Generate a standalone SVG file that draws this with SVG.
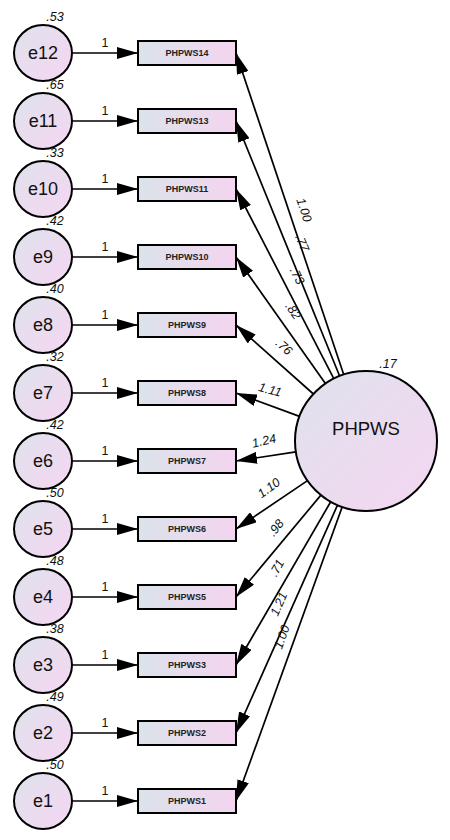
<svg xmlns="http://www.w3.org/2000/svg" width="450" height="840" viewBox="0 0 450 840">
<defs>
<linearGradient id="gc" x1="0" y1="0" x2="1" y2="1">
<stop offset="0" stop-color="#dfe2ec"/><stop offset="1" stop-color="#f5d6f2"/>
</linearGradient>
<linearGradient id="gr" x1="0" y1="0" x2="1" y2="0">
<stop offset="0" stop-color="#dbe3ea"/><stop offset="1" stop-color="#f4d5f0"/>
</linearGradient>
<marker id="ah" markerUnits="userSpaceOnUse" markerWidth="22" markerHeight="12" refX="21" refY="6" orient="auto">
<path d="M0,0 L21,6 L0,12 z" fill="#000"/>
</marker>
<style>
.err{fill:url(#gc);stroke:#000;stroke-width:2}
.obs{fill:url(#gr);stroke:#000;stroke-width:2}
.lat{fill:url(#gc);stroke:#000;stroke-width:2}
.edge{stroke:#000;stroke-width:1.7;fill:none;marker-end:url(#ah)}
.et{font-family:"Liberation Sans",Arial,sans-serif;font-size:18px;text-anchor:middle;dominant-baseline:central;fill:#111}
.ot{font-family:"Liberation Sans",Arial,sans-serif;font-size:9px;font-weight:bold;text-anchor:middle;dominant-baseline:central;fill:#222}
.lt{font-family:"Liberation Sans",Arial,sans-serif;font-size:18.5px;text-anchor:middle;dominant-baseline:central;fill:#111}
.var{font-family:"Liberation Sans",Arial,sans-serif;font-size:12.5px;font-style:italic;text-anchor:middle;dominant-baseline:central;fill:#111}
.one{font-family:"Liberation Sans",Arial,sans-serif;font-size:12.5px;text-anchor:middle;dominant-baseline:central;fill:#111}
.ld{font-family:"Liberation Sans",Arial,sans-serif;font-size:12.5px;font-style:italic;text-anchor:middle;dominant-baseline:central;fill:#111}
</style>
</defs>
<rect width="450" height="840" fill="#fff"/>

<g id="connectors">
<line class="edge" x1="72" y1="53" x2="138" y2="53"/>
<line class="edge" x1="72" y1="121" x2="138" y2="121"/>
<line class="edge" x1="72" y1="189" x2="138" y2="189"/>
<line class="edge" x1="72" y1="257" x2="138" y2="257"/>
<line class="edge" x1="72" y1="325" x2="138" y2="325"/>
<line class="edge" x1="72" y1="393" x2="138" y2="393"/>
<line class="edge" x1="72" y1="461" x2="138" y2="461"/>
<line class="edge" x1="72" y1="529" x2="138" y2="529"/>
<line class="edge" x1="72" y1="597" x2="138" y2="597"/>
<line class="edge" x1="72" y1="665" x2="138" y2="665"/>
<line class="edge" x1="72" y1="733" x2="138" y2="733"/>
<line class="edge" x1="72" y1="801" x2="138" y2="801"/>

<line class="edge" x1="343.7" y1="374.5" x2="236" y2="53"/>
<line class="edge" x1="339.6" y1="376.0" x2="236" y2="121"/>
<line class="edge" x1="333.8" y1="378.6" x2="236" y2="189"/>
<line class="edge" x1="325.4" y1="383.6" x2="236" y2="257"/>
<line class="edge" x1="313.4" y1="394.0" x2="236" y2="325"/>
<line class="edge" x1="299.5" y1="416.4" x2="236" y2="393"/>
<line class="edge" x1="295.9" y1="451.8" x2="236" y2="461"/>
<line class="edge" x1="307.5" y1="480.6" x2="236" y2="529"/>
<line class="edge" x1="320.9" y1="495.1" x2="236" y2="597"/>
<line class="edge" x1="330.7" y1="501.8" x2="236" y2="665"/>
<line class="edge" x1="337.5" y1="505.1" x2="236" y2="733"/>
<line class="edge" x1="342.2" y1="506.9" x2="236" y2="801"/>

<text class="one" x="105" y="43">1</text>
<text class="one" x="105" y="111">1</text>
<text class="one" x="105" y="179">1</text>
<text class="one" x="105" y="247">1</text>
<text class="one" x="105" y="315">1</text>
<text class="one" x="105" y="383">1</text>
<text class="one" x="105" y="451">1</text>
<text class="one" x="105" y="519">1</text>
<text class="one" x="105" y="587">1</text>
<text class="one" x="105" y="655">1</text>
<text class="one" x="105" y="723">1</text>
<text class="one" x="105" y="791">1</text>

<text class="ld" x="304" y="210" transform="rotate(71.5 304 210)">1.00</text>
<text class="ld" x="302" y="243" transform="rotate(67.9 302 243)">.77</text>
<text class="ld" x="297" y="276" transform="rotate(62.7 297 276)">.73</text>
<text class="ld" x="293" y="311" transform="rotate(54.8 293 311)">.82</text>
<text class="ld" x="284" y="347" transform="rotate(41.7 284 347)">.76</text>
<text class="ld" x="270" y="390" transform="rotate(15 270 390)">1.11</text>
<text class="ld" x="264" y="441" transform="rotate(-13 264 441)">1.24</text>
<text class="ld" x="269" y="488" transform="rotate(-36 269 488)">1.10</text>
<text class="ld" x="276" y="528" transform="rotate(-52 276 528)">.98</text>
<text class="ld" x="277" y="568" transform="rotate(-61 277 568)">.71</text>
<text class="ld" x="279" y="604" transform="rotate(-66 279 604)">1.21</text>
<text class="ld" x="282" y="637" transform="rotate(-70.2 282 637)">1.00</text>
</g>

<g id="e12"><ellipse class="err" cx="43" cy="53" rx="29" ry="28"/><text class="et" x="43" y="53">e12</text><text class="var" x="55" y="17">.53</text></g>
<g id="e11"><ellipse class="err" cx="43" cy="121" rx="29" ry="28"/><text class="et" x="43" y="121">e11</text><text class="var" x="55" y="85">.65</text></g>
<g id="e10"><ellipse class="err" cx="43" cy="189" rx="29" ry="28"/><text class="et" x="43" y="189">e10</text><text class="var" x="55" y="153">.33</text></g>
<g id="e9"><ellipse class="err" cx="43" cy="257" rx="29" ry="28"/><text class="et" x="43" y="257">e9</text><text class="var" x="55" y="221">.42</text></g>
<g id="e8"><ellipse class="err" cx="43" cy="325" rx="29" ry="28"/><text class="et" x="43" y="325">e8</text><text class="var" x="55" y="289">.40</text></g>
<g id="e7"><ellipse class="err" cx="43" cy="393" rx="29" ry="28"/><text class="et" x="43" y="393">e7</text><text class="var" x="55" y="357">.32</text></g>
<g id="e6"><ellipse class="err" cx="43" cy="461" rx="29" ry="28"/><text class="et" x="43" y="461">e6</text><text class="var" x="55" y="425">.42</text></g>
<g id="e5"><ellipse class="err" cx="43" cy="529" rx="29" ry="28"/><text class="et" x="43" y="529">e5</text><text class="var" x="55" y="493">.50</text></g>
<g id="e4"><ellipse class="err" cx="43" cy="597" rx="29" ry="28"/><text class="et" x="43" y="597">e4</text><text class="var" x="55" y="561">.48</text></g>
<g id="e3"><ellipse class="err" cx="43" cy="665" rx="29" ry="28"/><text class="et" x="43" y="665">e3</text><text class="var" x="55" y="629">.38</text></g>
<g id="e2"><ellipse class="err" cx="43" cy="733" rx="29" ry="28"/><text class="et" x="43" y="733">e2</text><text class="var" x="55" y="697">.49</text></g>
<g id="e1"><ellipse class="err" cx="43" cy="801" rx="29" ry="28"/><text class="et" x="43" y="801">e1</text><text class="var" x="55" y="765">.50</text></g>

<g id="PHPWS14"><rect class="obs" x="138" y="41" width="98" height="24"/><text class="ot" x="187" y="53">PHPWS14</text></g>
<g id="PHPWS13"><rect class="obs" x="138" y="109" width="98" height="24"/><text class="ot" x="187" y="121">PHPWS13</text></g>
<g id="PHPWS11"><rect class="obs" x="138" y="177" width="98" height="24"/><text class="ot" x="187" y="189">PHPWS11</text></g>
<g id="PHPWS10"><rect class="obs" x="138" y="245" width="98" height="24"/><text class="ot" x="187" y="257">PHPWS10</text></g>
<g id="PHPWS9"><rect class="obs" x="138" y="313" width="98" height="24"/><text class="ot" x="187" y="325">PHPWS9</text></g>
<g id="PHPWS8"><rect class="obs" x="138" y="381" width="98" height="24"/><text class="ot" x="187" y="393">PHPWS8</text></g>
<g id="PHPWS7"><rect class="obs" x="138" y="449" width="98" height="24"/><text class="ot" x="187" y="461">PHPWS7</text></g>
<g id="PHPWS6"><rect class="obs" x="138" y="517" width="98" height="24"/><text class="ot" x="187" y="529">PHPWS6</text></g>
<g id="PHPWS5"><rect class="obs" x="138" y="585" width="98" height="24"/><text class="ot" x="187" y="597">PHPWS5</text></g>
<g id="PHPWS3"><rect class="obs" x="138" y="653" width="98" height="24"/><text class="ot" x="187" y="665">PHPWS3</text></g>
<g id="PHPWS2"><rect class="obs" x="138" y="721" width="98" height="24"/><text class="ot" x="187" y="733">PHPWS2</text></g>
<g id="PHPWS1"><rect class="obs" x="138" y="789" width="98" height="24"/><text class="ot" x="187" y="801">PHPWS1</text></g>

<g id="PHPWS"><ellipse class="lat" cx="366" cy="441" rx="71" ry="70"/><text class="lt" x="366" y="428">PHPWS</text><text class="var" x="388" y="364">.17</text></g>
</svg>
